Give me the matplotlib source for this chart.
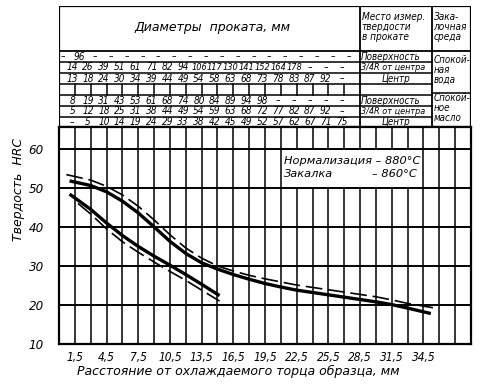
import numpy as np
import matplotlib
matplotlib.use("Agg")
import matplotlib.pyplot as plt
from matplotlib.patches import Rectangle
from matplotlib import font_manager

# ---------------- data ----------------
x_tick_values = [1.5, 4.5, 7.5, 10.5, 13.5, 16.5, 19.5, 22.5, 25.5, 28.5, 31.5, 34.5]
y_tick_values = [10, 20, 30, 40, 50, 60]

# upper band (solid = lower bound, dashed = upper bound)
upper_solid_x = [1.0, 3.0, 4.5, 6.0, 7.5, 9.0, 10.5, 12.0, 13.5, 15.0, 16.5, 18.0, 19.5,
                 21.0, 22.5, 24.0, 25.5, 27.0, 28.5, 30.0, 31.5, 33.0, 35.2]
upper_solid_y = [51.8, 50.6, 49.0, 46.6, 43.6, 40.0, 36.3, 33.2, 30.8, 29.2, 27.8, 26.6, 25.5,
                 24.6, 23.8, 23.2, 22.6, 22.0, 21.4, 20.8, 20.1, 19.2, 17.8]
upper_dash_x = [0.7, 3.0, 4.5, 6.0, 7.5, 9.0, 10.5, 12.0, 13.5, 15.0, 16.5, 18.0, 19.5,
                21.0, 22.5, 24.0, 25.5, 27.0, 28.5, 30.0, 31.5, 33.0, 35.4]
upper_dash_y = [53.4, 52.0, 50.4, 48.2, 45.3, 41.8, 38.0, 34.6, 32.0, 30.0, 28.7, 27.6, 26.7,
                25.9, 25.1, 24.5, 23.9, 23.3, 22.7, 22.1, 21.3, 20.4, 19.3]
# lower band (solid = upper bound, dashed = lower bound)
lower_solid_x = [1.0, 3.0, 4.5, 6.0, 7.5, 9.0, 10.5, 12.0, 13.5, 15.2]
lower_solid_y = [48.4, 44.5, 41.0, 37.8, 35.0, 32.5, 30.2, 27.8, 25.3, 22.4]
lower_dash_x = [1.8, 3.0, 4.5, 6.0, 7.5, 9.0, 10.5, 12.0, 13.5, 15.2]
lower_dash_y = [46.0, 43.3, 39.5, 36.2, 33.5, 31.0, 28.6, 26.3, 23.8, 21.0]

# table rows (bar diameters, mm)
water_surface = ["–", "96"] + ["–"] * 17
water_r34 = ["14", "26", "39", "51", "61", "71", "82", "94", "106", "117", "130", "141",
             "152", "164", "178", "–", "–", "–"]
water_center = ["13", "18", "24", "30", "34", "39", "44", "49", "54", "58", "63", "68",
                "73", "78", "83", "87", "92", "–"]
oil_surface = ["8", "19", "31", "43", "53", "61", "68", "74", "80", "84", "89", "94",
               "98", "–", "–", "–", "–", "–"]
oil_r34 = ["5", "12", "18", "25", "31", "38", "44", "49", "54", "59", "63", "68",
           "72", "77", "82", "87", "92", "–"]
oil_center = ["–", "5", "10", "14", "19", "24", "29", "33", "38", "42", "45", "49",
              "52", "57", "62", "67", "71", "75"]
place_labels = ["Поверхность", "3/4R от центра", "Центр"]

# ---------------- fonts ----------------
entries = font_manager.fontManager.ttflist
names = {f.name for f in entries}
NF = {"style": "italic"}
if "Liberation Sans Narrow" in names:
    NF["family"] = ["Liberation Sans Narrow", "DejaVu Sans"]
    nscale = 1.0
elif any(f.name == "DejaVu Sans" and str(f.stretch) in ("condensed", "semi-condensed")
         for f in entries):
    NF["family"] = ["DejaVu Sans"]
    NF["stretch"] = "condensed"
    nscale = 0.95
elif "Liberation Sans" in names:
    NF["family"] = ["Liberation Sans", "DejaVu Sans"]
    nscale = 0.88
else:
    NF["family"] = ["DejaVu Sans"]
    nscale = 0.8
ital = dict(style="italic")

# ---------------- figure ----------------
W, H = 488, 386
fig = plt.figure(figsize=(W / 100, H / 100), dpi=100)
fig.patch.set_facecolor("white")

X0, X1 = 59, 471          # px
Y_TOP, Y_BOT = 127, 344   # px (from top)
XMAX = 39.0
ax = fig.add_axes([X0 / W, 1 - Y_BOT / H, (X1 - X0) / W, (Y_BOT - Y_TOP) / H])
ax.set_xlim(0, XMAX)
ax.set_ylim(10, 65.6)

for xv in np.arange(1.5, XMAX, 1.5):
    ax.axvline(xv, color="black", lw=1.1, zorder=1)
for yv in y_tick_values[1:]:
    ax.axhline(yv, color="black", lw=1.4, zorder=1)

ax.set_xticks(x_tick_values)
ax.set_xticklabels([f"{v:.1f}".replace(".", ",") for v in x_tick_values],
                   fontsize=9 * nscale, **NF)
ax.set_yticks(y_tick_values)
ax.set_yticklabels([str(v) for v in y_tick_values], fontsize=10 * nscale, **NF)
ax.tick_params(axis="both", length=0)
ax.tick_params(axis="x", pad=5)
ax.tick_params(axis="y", pad=11)
for s in ax.spines.values():
    s.set_linewidth(1.6)

ax.plot(upper_solid_x, upper_solid_y, color="black", lw=2.4, zorder=3,
        solid_capstyle="butt")
ax.plot(upper_dash_x, upper_dash_y, color="black", lw=1.2, zorder=3, dashes=(10, 3.5))
ax.plot(lower_solid_x, lower_solid_y, color="black", lw=2.4, zorder=3,
        solid_capstyle="butt")
ax.plot(lower_dash_x, lower_dash_y, color="black", lw=1.2, zorder=3, dashes=(10, 3.5))

ax.add_patch(Rectangle((21.12, 50.25), 34.5 - 21.24, 9.5, facecolor="white",
                       edgecolor="none", zorder=2))
ax.text(21.3, 56.9, "Нормализация – 880°C", fontsize=8.2, ha="left", va="center",
        zorder=4, **ital)
ax.text(21.3, 53.6, "Закалка", fontsize=8.2, ha="left", va="center", zorder=4, **ital)
ax.text(33.9, 53.6, "– 860°C", fontsize=8.2, ha="right", va="center", zorder=4, **ital)

fig.text(238 / W, 1 - 371 / H, "Расстояние от охлаждаемого торца образца, мм",
         ha="center", va="center", fontsize=9, **ital)
fig.text(19 / W, 1 - 189 / H, "Твердость  HRC", ha="center", va="center",
         rotation=90, fontsize=9, **ital)

# ---------------- table ----------------
T_TOP = 6
tab = fig.add_axes([X0 / W, 1 - Y_TOP / H, (X1 - X0) / W, (Y_TOP - T_TOP) / H])
tab.set_xlim(0, XMAX)
tab.set_ylim(Y_TOP, T_TOP)
tab.axis("off")

C1, C2 = 28.5, 35.3
lk = dict(color="black", solid_capstyle="projecting")
tab.plot([0, XMAX, XMAX, 0, 0], [T_TOP, T_TOP, Y_TOP, Y_TOP, T_TOP], lw=1.6, **lk)
tab.plot([0, XMAX], [51, 51], lw=1.3, **lk)
tab.plot([C1, C1], [T_TOP, Y_TOP], lw=1.3, **lk)
tab.plot([C2, C2], [T_TOP, Y_TOP], lw=1.3, **lk)
for yl in [62, 73, 84, 95, 106, 117]:
    tab.plot([0, C2], [yl, yl], lw=1.1, **lk)
tab.plot([C2, XMAX], [93, 93], lw=1.1, **lk)
for xv in np.arange(1.5, C1, 1.5):
    tab.plot([xv, xv], [84, 95], lw=1.1, **lk)

tab.text(C1 / 2 + 0.3, 28, "Диаметры  проката, мм", ha="center", va="center",
         fontsize=9, **ital)
tab.text(C1 + 0.15, 27, "Место измер.\nтвердости\nв прокате", ha="left", va="center",
         fontsize=7.6 * nscale, linespacing=1.0, **NF)
tab.text(C2 + 0.15, 27, "Зака-\nлочная\nсреда", ha="left", va="center",
         fontsize=7.6 * nscale, linespacing=1.0, **NF)

rows = [(water_surface, 56.5, 0.4), (water_r34, 67.5, 1.25), (water_center, 78.5, 1.25),
        (oil_surface, 100.5, 1.25), (oil_r34, 111.5, 1.25), (oil_center, 122.0, 1.25)]
for vals, yc, x_start in rows:
    for i, v in enumerate(vals):
        fs = 7.6 * nscale if len(v) < 3 else 6.9 * nscale
        tab.text(x_start + 1.5 * i, yc, v, ha="center", va="center", fontsize=fs, **NF)

for yc_list in ([56.5, 67.5, 78.5], [100.5, 111.5, 122.0]):
    for lab, yc in zip(place_labels, yc_list):
        if lab == "Центр":
            tab.text((C1 + C2) / 2, yc, lab, ha="center", va="center",
                     fontsize=7.4 * nscale, **NF)
        else:
            tab.text(C1 + 0.1, yc, lab, ha="left", va="center",
                     fontsize=(7.4 if lab == "Поверхность" else 6.8) * nscale, **NF)

tab.text(C2 + 0.15, 70, "Спокой-\nная\nвода", ha="left", va="center",
         fontsize=7.4 * nscale, linespacing=1.0, **NF)
tab.text(C2 + 0.15, 108, "Спокой-\nное\nмасло", ha="left", va="center",
         fontsize=7.4 * nscale, linespacing=1.0, **NF)

fig.savefig("out.png", dpi=100, facecolor="white")
